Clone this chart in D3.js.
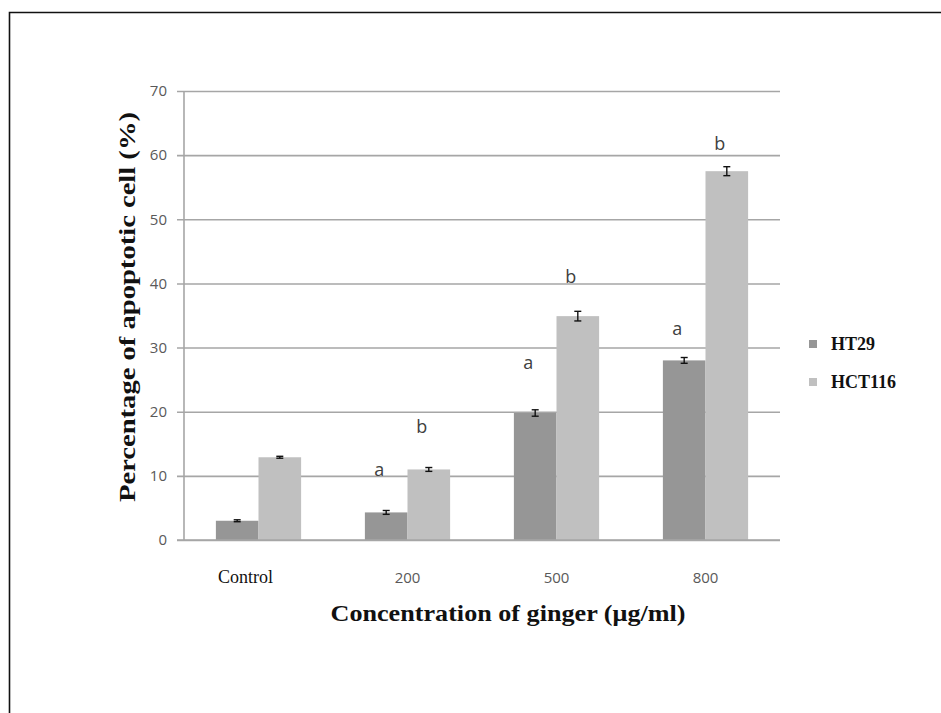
<!DOCTYPE html>
<html>
<head>
<meta charset="utf-8">
<script src="https://cdn.jsdelivr.net/npm/d3@7"></script>
<style>
  html, body { margin: 0; padding: 0; background: #fff; }
  svg { display: block; }
</style>
</head>
<body>
<svg id="chart" width="941" height="713"></svg>
<script>
// Apoptosis rate of colon cancer cell lines after ginger extract treatment
const categories = ["Control", "200", "500", "800"];
const seriesNames = ["HT29", "HCT116"];
const ht29 = [3.0, 4.3, 19.8, 28.0];
const hct116 = [12.9, 11.0, 34.9, 57.5];
const ht29Err = [0.15, 0.3, 0.5, 0.45];
const hct116Err = [0.15, 0.3, 0.75, 0.7];
const ht29Letters = ["", "a", "a", "a"];
const hct116Letters = ["", "b", "b", "b"];
// heights (in %) at which the significance letters sit
const ht29LetterLevel = [0, 10.9, 27.6, 33.0];
const hct116LetterLevel = [0, 17.6, 41.0, 61.8];
const yTicks = [0, 10, 20, 30, 40, 50, 60, 70];

const colors = { HT29: "#969696", HCT116: "#c0c0c0" };

const svg = d3.select("#chart");

// outer frame (left and top edges visible)
svg.append("path")
  .attr("d", "M9.5,713 L9.5,12.5 L941,12.5")
  .attr("fill", "none")
  .attr("stroke", "#111")
  .attr("stroke-width", 1.6);

const plot = { left: 184, right: 780, top: 91, bottom: 540 };

const x = d3.scaleBand()
  .domain(categories)
  .range([plot.left, plot.right])
  .paddingInner(0.428)
  .paddingOuter(0.214);

const xs = d3.scaleBand()
  .domain(seriesNames)
  .range([0, x.bandwidth()]);

const y = d3.scaleLinear()
  .domain([0, 70])
  .range([plot.bottom, plot.top]);

// horizontal gridlines and y tick labels via axis
const yAxis = d3.axisLeft(y)
  .tickValues(yTicks)
  .tickSize(-(plot.right - plot.left + 7))
  .tickPadding(10)
  .tickFormat(d3.format("d"));

const gy = svg.append("g")
  .attr("transform", `translate(${plot.left - 7},0)`)
  .call(yAxis);
gy.select(".domain").remove();
gy.selectAll(".tick line")
  .attr("stroke", "#a6a6a6")
  .attr("stroke-width", 1.6);
gy.selectAll(".tick text")
  .attr("fill", "#595959")
  .style("font-family", "'Open Sans', 'DejaVu Sans', sans-serif")
  .style("font-size", "15px");

// vertical axis line
svg.append("line")
  .attr("x1", plot.left).attr("x2", plot.left)
  .attr("y1", plot.top).attr("y2", plot.bottom)
  .attr("stroke", "#a6a6a6")
  .attr("stroke-width", 1.6);

// bars
const rows = categories.map((c, i) => ({
  cat: c,
  items: [
    { s: "HT29", v: ht29[i], e: ht29Err[i], letter: ht29Letters[i], lv: ht29LetterLevel[i] },
    { s: "HCT116", v: hct116[i], e: hct116Err[i], letter: hct116Letters[i], lv: hct116LetterLevel[i] }
  ]
}));

const groups = svg.append("g").selectAll("g")
  .data(rows)
  .join("g")
  .attr("transform", d => `translate(${x(d.cat)},0)`);

groups.selectAll("rect")
  .data(d => d.items)
  .join("rect")
  .attr("x", d => xs(d.s))
  .attr("width", xs.bandwidth())
  .attr("y", d => y(d.v))
  .attr("height", d => y(0) - y(d.v))
  .attr("fill", d => colors[d.s]);

// error bars
const eb = groups.selectAll("g.err")
  .data(d => d.items)
  .join("g")
  .attr("class", "err")
  .attr("stroke", "#111")
  .attr("stroke-width", 1.4);
eb.append("line")
  .attr("x1", d => xs(d.s) + xs.bandwidth() / 2)
  .attr("x2", d => xs(d.s) + xs.bandwidth() / 2)
  .attr("y1", d => y(d.v + d.e))
  .attr("y2", d => y(d.v - d.e));
eb.selectAll("line.cap")
  .data(d => [{ d, v: d.v + d.e }, { d, v: d.v - d.e }])
  .join("line")
  .attr("class", "cap")
  .attr("x1", o => xs(o.d.s) + xs.bandwidth() / 2 - 3.5)
  .attr("x2", o => xs(o.d.s) + xs.bandwidth() / 2 + 3.5)
  .attr("y1", o => y(o.v))
  .attr("y2", o => y(o.v));

// significance letters
groups.selectAll("text.letter")
  .data(d => d.items.filter(it => it.letter))
  .join("text")
  .attr("class", "letter")
  .attr("x", d => xs(d.s) + xs.bandwidth() / 2 - 7)
  .attr("y", d => y(d.lv))
  .attr("dy", "0.35em")
  .attr("text-anchor", "middle")
  .attr("fill", "#404040")
  .style("font-family", "'Open Sans', 'DejaVu Sans', sans-serif")
  .style("font-size", "18px")
  .text(d => d.letter);

// baseline
svg.append("line")
  .attr("x1", plot.left - 7).attr("x2", plot.right)
  .attr("y1", y(0)).attr("y2", y(0))
  .attr("stroke", "#a6a6a6")
  .attr("stroke-width", 1.6);

// category labels
const xAxis = d3.axisBottom(x).tickSize(0).tickPadding(0);
const gx = svg.append("g")
  .attr("transform", `translate(0,${plot.bottom})`)
  .call(xAxis);
gx.select(".domain").remove();
gx.selectAll(".tick text")
  .attr("y", 43)
  .attr("dy", 0)
  .attr("fill", d => d === "Control" ? "#111" : "#595959")
  .attr("dx", d => d === "Control" ? -13 : 0)
  .style("font-family", d => d === "Control"
    ? "'Liberation Serif', 'Times New Roman', serif"
    : "'Open Sans', 'DejaVu Sans', sans-serif")
  .style("font-size", d => d === "Control" ? "18px" : "15px");

// axis titles
svg.append("text")
  .attr("x", 508)
  .attr("y", 621)
  .attr("text-anchor", "middle")
  .attr("fill", "#111")
  .style("font-family", "'Liberation Serif', 'Times New Roman', serif")
  .style("font-weight", "bold")
  .style("font-size", "23px")
  .attr("textLength", 355)
  .attr("lengthAdjust", "spacingAndGlyphs")
  .text("Concentration of ginger (μg/ml)");

svg.append("text")
  .attr("transform", "translate(135,307) rotate(-90)")
  .attr("text-anchor", "middle")
  .attr("fill", "#111")
  .style("font-family", "'Liberation Serif', 'Times New Roman', serif")
  .style("font-weight", "bold")
  .style("font-size", "23px")
  .attr("textLength", 390)
  .attr("lengthAdjust", "spacingAndGlyphs")
  .text("Percentage of apoptotic cell (%)");

// legend
const legend = svg.append("g").attr("transform", "translate(809,340)");
const li = legend.selectAll("g")
  .data(seriesNames)
  .join("g")
  .attr("transform", (d, i) => `translate(0,${i * 38})`);
li.append("rect")
  .attr("x", 0).attr("y", 0)
  .attr("width", 8).attr("height", 8)
  .attr("fill", d => colors[d]);
li.append("text")
  .attr("x", 22)
  .attr("y", 4)
  .attr("dy", "0.35em")
  .attr("fill", "#111")
  .style("font-family", "'Liberation Serif', 'Times New Roman', serif")
  .style("font-weight", "bold")
  .style("font-size", "18px")
  .text(d => d);
</script>
</body>
</html>
